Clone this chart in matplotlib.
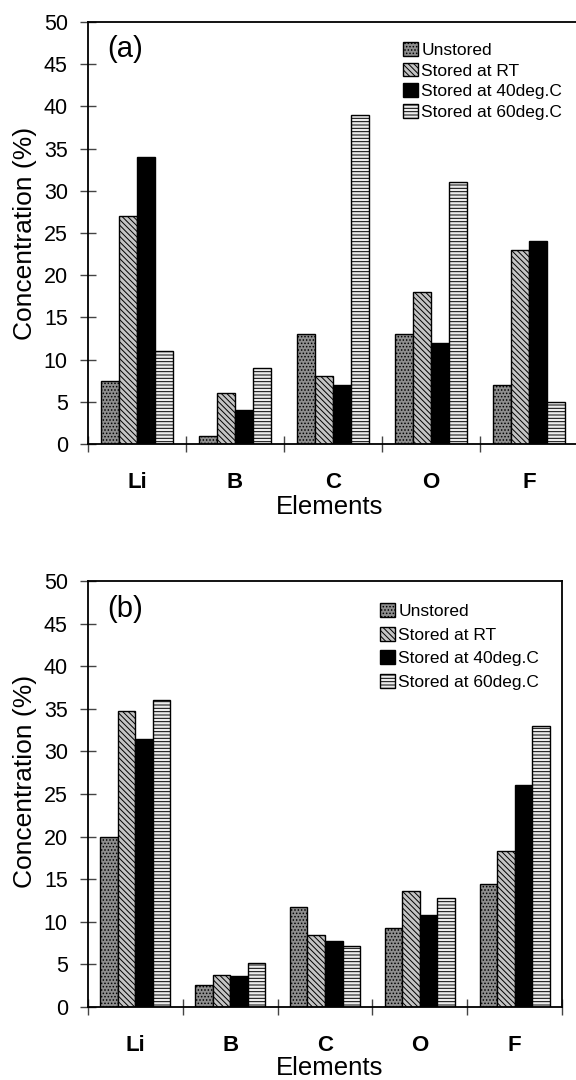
import matplotlib
matplotlib.use("Agg")
import matplotlib.pyplot as plt
import numpy as np

plt.rcParams['font.family'] = ['Liberation Sans', 'DejaVu Sans']
plt.rcParams['hatch.linewidth'] = 0.7

elements = ["Li", "B", "C", "O", "F"]
series_names = ["Unstored", "Stored at RT", "Stored at 40deg.C", "Stored at 60deg.C"]

a_unstored = [7.5, 0.9, 13.0, 13.0, 7.0]
a_rt = [27.0, 6.0, 8.0, 18.0, 23.0]
a_40 = [34.0, 4.0, 7.0, 12.0, 24.0]
a_60 = [11.0, 9.0, 39.0, 31.0, 5.0]

b_unstored = [20.0, 2.6, 11.7, 9.3, 14.4]
b_rt = [34.8, 3.8, 8.4, 13.6, 18.3]
b_40 = [31.5, 3.6, 7.7, 10.8, 26.0]
b_60 = [36.0, 5.2, 7.2, 12.8, 33.0]

yticks = list(range(0, 55, 5))

styles = [
    dict(facecolor="#8e8e8e", hatch="....."),
    dict(facecolor="#c4c4c4", hatch="\\\\\\\\\\\\"),
    dict(facecolor="#000000", hatch=None),
    dict(facecolor="#ececec", hatch="-----"),
]

W, H = 576, 1080
fig = plt.figure(figsize=(W / 100, H / 100), dpi=100)


def px_axes(l, r, t, b):
    return fig.add_axes([l / W, 1 - b / H, (r - l) / W, (b - t) / H])


def draw(ax, data, tag, leg_xy, leg_spacing, ylabel_xy, xlab_xy):
    n = len(elements)
    x = np.arange(n) + 0.5
    bw = 0.185
    offs = (np.arange(4) - 1.5) * bw
    for i, (vals, st) in enumerate(zip(data, styles)):
        ax.bar(x + offs[i], vals, width=bw, facecolor=st["facecolor"],
               hatch=st["hatch"], edgecolor="black", linewidth=1.0,
               label=series_names[i], zorder=2)
    ax.set_xlim(0, n)
    ax.set_ylim(0, 50)
    ax.set_yticks(yticks)
    ax.set_yticklabels([str(v) for v in yticks], fontsize=15.5)
    ax.set_xticks(np.arange(n + 1))
    ax.set_xticklabels([])
    ax.set_xticks(x, minor=True)
    ax.set_xticklabels(elements, minor=True, fontsize=16, fontweight="bold")
    ax.tick_params(axis="both", which="major", direction="inout", length=11,
                   width=1.0, color="#444444")
    ax.tick_params(axis="y", which="major", pad=9)
    ax.tick_params(axis="x", which="minor", length=0, pad=20)
    for s in ax.spines.values():
        s.set_linewidth(1.3)
    ax.set_ylabel("Concentration (%)", fontsize=19)
    ax.yaxis.set_label_coords(*ylabel_xy)
    ax.set_xlabel("Elements", fontsize=18.5)
    ax.xaxis.set_label_coords(*xlab_xy)
    wpx = ax.get_position().width * W
    ax.text((107 - 88) / wpx, 0.935, tag, transform=ax.transAxes,
            fontsize=21, va="center", ha="left")
    ax.legend(loc="upper left", bbox_to_anchor=(leg_xy[0] / W, 1 - leg_xy[1] / H),
              bbox_transform=fig.transFigure, frameon=False, fontsize=12.5,
              handlelength=0.85, handleheight=0.85, handletextpad=0.2,
              labelspacing=leg_spacing, borderpad=0, borderaxespad=0)


ax1 = px_axes(88, 578, 22, 444)
draw(ax1, [a_unstored, a_rt, a_40, a_60], "(a)", (403, 42), 0.27,
     (-0.104, 0.5), (0.494, -0.12))

ax2 = px_axes(88, 562, 581, 1007)
draw(ax2, [b_unstored, b_rt, b_40, b_60], "(b)", (380, 603), 0.45,
     (-0.107, 0.53), (0.51, -0.116))

fig.savefig("out.png", dpi=100, facecolor="white")
